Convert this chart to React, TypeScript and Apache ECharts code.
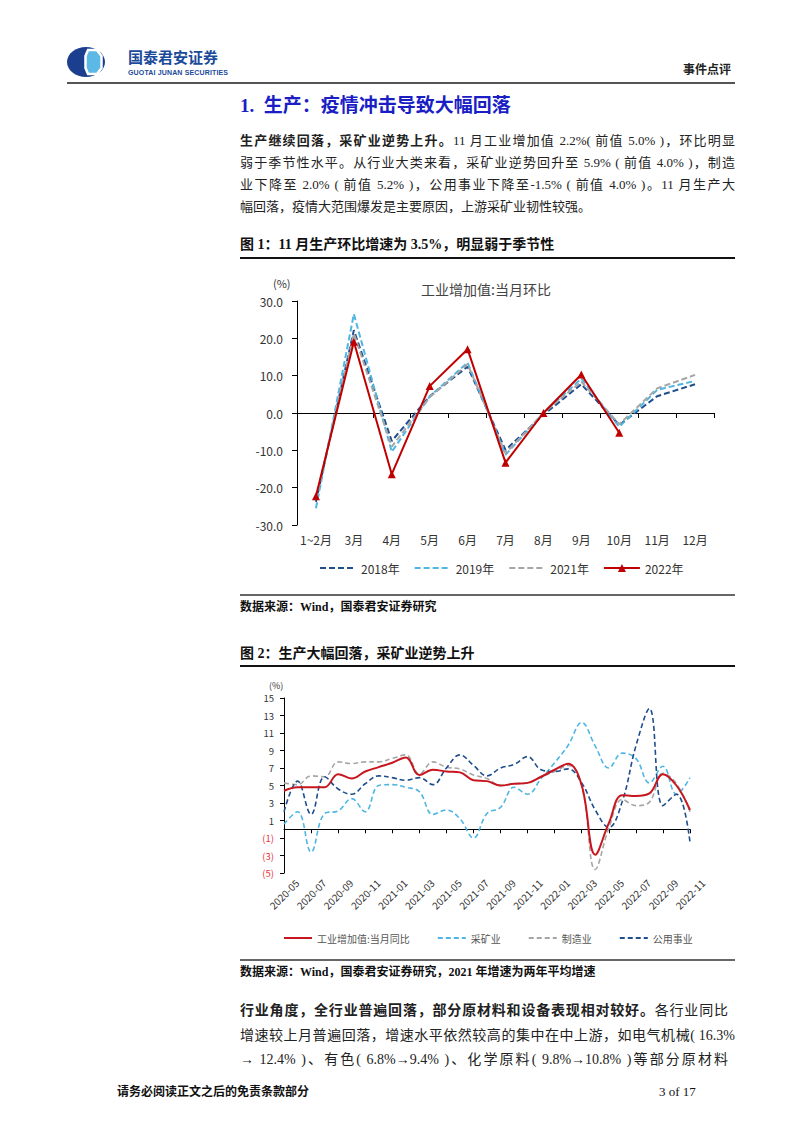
import React, { useEffect, useRef } from "react";
import * as echarts from "echarts";

// ---------- Chart 1 data (工业增加值:当月环比) ----------
const months1 = ["1~2月", "3月", "4月", "5月", "6月", "7月", "8月", "9月", "10月", "11月", "12月"];
const y2018 = [-23.8, 22.2, -7.5, 4.5, 12.4, -9.9, -0.5, 7.7, -3.2, 4.5, 7.7];
const y2019 = [-25.5, 26.5, -10.4, 4.4, 13.5, -11.2, 0.0, 9.2, -3.7, 6.2, 8.6];
const y2021 = [-23.0, 21.3, -9.0, 4.2, 13.1, -10.8, 0.0, 8.4, -3.0, 6.6, 10.2];
const y2022 = [-22.3, 19.1, -16.4, 7.2, 17.1, -13.3, 0.0, 10.3, -5.3, null, null];
const legend1 = ["2018年", "2019年", "2021年", "2022年"];

// ---------- Chart 2 data ----------
const dates2 = [
  "2020-05", "2020-06", "2020-07", "2020-08", "2020-09", "2020-10", "2020-11", "2020-12",
  "2021-01", "2021-02", "2021-03", "2021-04", "2021-05", "2021-06", "2021-07", "2021-08",
  "2021-09", "2021-10", "2021-11", "2021-12", "2022-01", "2022-02", "2022-03", "2022-04",
  "2022-05", "2022-06", "2022-07", "2022-08", "2022-09", "2022-10", "2022-11",
];
const ipYoy = [4.4, 4.8, 4.8, 4.8, 6.3, 5.8, 6.6, 7.1, 7.6, 8.2, 6.2, 6.8, 6.6, 6.5, 5.6, 5.5, 5.0, 5.2, 5.3, 6.0, 6.8, 7.5, 5.0, -2.9, 0.7, 3.9, 3.8, 4.1, 6.3, 5.0, 2.2];
const mining = [0.6, 2.0, -2.6, 1.8, 2.1, 3.5, 2.0, 5.0, 5.1, 4.8, 4.3, 1.7, 2.2, 1.2, -1.0, 1.8, 2.5, 4.8, 4.0, 5.8, 7.6, 9.6, 12.2, 9.5, 7.0, 8.7, 8.1, 5.3, 7.2, 4.0, 5.9];
const manuf = [5.3, 5.1, 6.1, 6.0, 7.7, 7.5, 7.7, 7.7, 8.1, 8.5, 6.3, 7.7, 7.1, 6.9, 6.2, 5.8, 5.0, 5.2, 5.3, 6.0, 6.6, 7.3, 5.0, -4.6, 0.1, 3.4, 2.7, 3.1, 6.4, 5.2, 2.0];
const utility = [2.0, 5.5, 1.7, 6.0, 4.6, 4.0, 5.2, 6.1, 5.9, 5.6, 5.9, 5.1, 7.0, 8.5, 7.3, 6.1, 7.0, 7.4, 8.3, 6.8, 6.6, 6.9, 5.3, 2.2, 0.2, 3.2, 9.5, 13.8, 2.7, 4.0, -1.5];
const legend2 = ["工业增加值:当月同比", "采矿业", "制造业", "公用事业"];

const SANS = '"Noto Sans CJK SC", "Noto Sans", sans-serif';
const SERIF = '"Liberation Serif", "Noto Sans CJK SC", serif';

const C_DARK = "#1f4e8c";
const C_LIGHT = "#4fb6e3";
const C_GRAY = "#a6a6a6";
const C_RED = "#c00000";

function Txt(props: any) {
  const { x, y, w, size, bold, color, justify, family, spacing, children } = props;
  const h = size * 1.4;
  return (
    <div
      style={{
        position: "absolute",
        left: x,
        top: y - h / 2,
        width: w,
        height: h,
        lineHeight: `${h}px`,
        fontSize: size,
        fontWeight: bold ? 700 : 400,
        color: color || "#111",
        whiteSpace: "nowrap",
        textAlign: justify ? "justify" : "left",
        textAlignLast: justify ? "justify" : "auto",
        fontFamily: family || SERIF,
        letterSpacing: spacing,
      } as any}
    >
      {children}
    </div>
  );
}

function Rule(props: any) {
  const { x, y, w, h, color } = props;
  return <div style={{ position: "absolute", left: x, top: y, width: w, height: h, background: color }} />;
}

export default function App() {
  const ref = useRef<HTMLDivElement>(null);

  useEffect(() => {
    if (!ref.current) return;
    const chart = echarts.init(ref.current, null, { renderer: "svg" });
    const dash = [6, 3];
    const hidden = { opacity: 0 };
    const option: any = {
      animation: false,
      textStyle: { fontFamily: SANS },
      grid: [
        { left: 297, top: 301, width: 417, height: 224 },
        { left: 284, top: 698, width: 406, height: 175 },
      ],
      xAxis: [
        {
          gridIndex: 0,
          type: "category",
          data: months1,
          boundaryGap: true,
          axisLine: { onZero: true, lineStyle: { color: "#000", width: 1 } },
          axisTick: { show: true, length: 5, lineStyle: { color: "#000" } },
          axisLabel: { color: "#333", fontSize: 12, margin: 8, interval: 0 },
          splitLine: { show: false },
        },
        {
          gridIndex: 1,
          type: "category",
          data: dates2,
          boundaryGap: false,
          position: "bottom",
          axisLine: { show: false, onZero: false },
          axisTick: { show: false },
          axisLabel: { interval: 1, rotate: 45, fontSize: 10, color: "#333", margin: 21, align: "center" },
          splitLine: { show: false },
        },
        {
          gridIndex: 1,
          type: "category",
          data: dates2,
          boundaryGap: false,
          position: "top",
          axisLine: { onZero: true, lineStyle: { color: "#000", width: 1 } },
          axisTick: { show: true, inside: true, interval: 1, length: 4, lineStyle: { color: "#000" } },
          axisLabel: { show: false },
          splitLine: { show: false },
        },
      ],
      yAxis: [
        {
          gridIndex: 0,
          type: "value",
          min: -30,
          max: 30,
          interval: 10,
          axisLine: { show: true, lineStyle: { color: "#000", width: 1 } },
          axisTick: { show: true, length: 5, lineStyle: { color: "#000" } },
          splitLine: { show: false },
          axisLabel: {
            formatter: (v: number) => v.toFixed(1),
            color: "#333",
            fontSize: 12,
            margin: 14,
          },
        },
        {
          gridIndex: 1,
          type: "value",
          min: -5,
          max: 15,
          interval: 2,
          axisLine: { show: true, lineStyle: { color: "#000", width: 1 } },
          axisTick: { show: true, length: 4, lineStyle: { color: "#000" } },
          splitLine: { show: false },
          axisLabel: {
            formatter: (v: number) => (v < 0 ? `(${-v})` : `${v}`),
            color: (v: any) => (Number(v) < 0 ? "#e8303a" : "#333"),
            fontSize: 9.5,
            margin: 10,
          },
        },
      ],
      legend: [
        {
          data: [
            { name: legend1[0], itemStyle: hidden },
            { name: legend1[1], itemStyle: hidden },
            { name: legend1[2], itemStyle: hidden },
            { name: legend1[3] },
          ],
          left: 314,
          top: 557,
          itemWidth: 36,
          itemHeight: 10,
          itemGap: 14,
          textStyle: { fontSize: 12, color: "#333", fontFamily: SANS },
        },
        {
          data: legend2.map((n) => ({ name: n, itemStyle: hidden })),
          left: 278,
          top: 928,
          itemWidth: 28,
          itemHeight: 8,
          itemGap: 27,
          textStyle: { fontSize: 10, color: "#555", fontFamily: SANS },
        },
      ],
      graphic: [
        { type: "ellipse", shape: { cx: 86, cy: 62, rx: 19, ry: 15 }, style: { fill: "#1b3f8e" } },
        {
          type: "polygon",
          shape: { points: [[88, 50], [97, 50], [101.5, 56], [101.5, 68], [97, 74], [88, 74], [85.5, 68], [85.5, 56]] },
          style: { fill: "#5cb8e4", stroke: "#ffffff", lineWidth: 2.5 },
        },
        { type: "text", x: 273, y: 283, style: { text: "(%)", fontSize: 11, fill: "#333", fontFamily: SANS, verticalAlign: "middle" } },
        {
          type: "text",
          x: 486,
          y: 289,
          style: { text: "工业增加值:当月环比", fontSize: 14, fill: "#444", fontFamily: SANS, align: "center", verticalAlign: "middle" },
        },
        { type: "text", x: 269, y: 685, style: { text: "(%)", fontSize: 9, fill: "#333", fontFamily: SANS, verticalAlign: "middle" } },
      ],
      series: [
        {
          name: "2018年", type: "line", xAxisIndex: 0, yAxisIndex: 0, data: y2018, symbol: "none",
          lineStyle: { color: C_DARK, width: 2, type: dash }, itemStyle: { color: C_DARK },
        },
        {
          name: "2019年", type: "line", xAxisIndex: 0, yAxisIndex: 0, data: y2019, symbol: "none",
          lineStyle: { color: C_LIGHT, width: 2, type: dash }, itemStyle: { color: C_LIGHT },
        },
        {
          name: "2021年", type: "line", xAxisIndex: 0, yAxisIndex: 0, data: y2021, symbol: "none",
          lineStyle: { color: C_GRAY, width: 2, type: dash }, itemStyle: { color: C_GRAY },
        },
        {
          name: "2022年", type: "line", xAxisIndex: 0, yAxisIndex: 0, data: y2022, symbol: "triangle", symbolSize: 8,
          lineStyle: { color: C_RED, width: 2 }, itemStyle: { color: C_RED },
        },
        {
          name: "采矿业", type: "line", xAxisIndex: 1, yAxisIndex: 1, data: mining, symbol: "none", smooth: 0.4,
          lineStyle: { color: C_LIGHT, width: 1.6, type: [5, 3] }, itemStyle: { color: C_LIGHT },
        },
        {
          name: "制造业", type: "line", xAxisIndex: 1, yAxisIndex: 1, data: manuf, symbol: "none", smooth: 0.4,
          lineStyle: { color: C_GRAY, width: 1.6, type: [5, 3] }, itemStyle: { color: C_GRAY },
        },
        {
          name: "公用事业", type: "line", xAxisIndex: 1, yAxisIndex: 1, data: utility, symbol: "none", smooth: 0.4,
          lineStyle: { color: C_DARK, width: 1.6, type: [5, 3] }, itemStyle: { color: C_DARK },
        },
        {
          name: "工业增加值:当月同比", type: "line", xAxisIndex: 1, yAxisIndex: 1, data: ipYoy, symbol: "none", smooth: 0.4,
          lineStyle: { color: "#c8161e", width: 2 }, itemStyle: { color: "#c8161e" },
        },
      ],
    };
    chart.setOption(option);
    return () => chart.dispose();
  }, []);

  const BLUE = "#1a1ec4";
  return (
    <div style={{ position: "absolute", left: 0, top: 0, width: 802, height: 1133, background: "#fff", overflow: "hidden" }}>
      <div ref={ref} style={{ position: "absolute", left: 0, top: 0, width: 802, height: 1133 }} />

      {/* header */}
      <Txt x={128} y={56} size={15} bold color="#1b4a9a" family={SANS} spacing={0}>国泰君安证券</Txt>
      <Txt x={128} y={73} size={7} bold color="#1b4a9a" family='"Liberation Sans", Arial, sans-serif' spacing={0.15}>GUOTAI JUNAN SECURITIES</Txt>
      <Txt x={683} y={69} size={12} bold color="#222" family={SANS}>事件点评</Txt>
      <Rule x={67} y={82} w={668} h={2} color="#555" />

      {/* section title */}
      <Txt x={240} y={106} size={19} bold color={BLUE}>1.&nbsp;&nbsp;生产：疫情冲击导致大幅回落</Txt>

      {/* paragraph 1 */}
      <Txt x={240} y={141} w={495} size={13} justify color="#222">
        <b>生产继续回落，采矿业逆势上升。</b>11 月工业增加值 2.2%( 前值 5.0% )，环比明显
      </Txt>
      <Txt x={240} y={163} w={495} size={13} justify color="#222">
        弱于季节性水平。从行业大类来看，采矿业逆势回升至 5.9% ( 前值 4.0% )，制造
      </Txt>
      <Txt x={240} y={185} w={495} size={13} justify color="#222">
        业下降至 2.0% ( 前值 5.2% )，公用事业下降至-1.5% ( 前值 4.0% )。11 月生产大
      </Txt>
      <Txt x={240} y={207} size={13} color="#222">幅回落，疫情大范围爆发是主要原因，上游采矿业韧性较强。</Txt>

      {/* figure 1 */}
      <Txt x={240} y={245} size={14} bold color="#111">图 1：11 月生产环比增速为 3.5%，明显弱于季节性</Txt>
      <Rule x={240} y={257} w={495} h={1.5} color="#111" />
      <Rule x={240} y={594} w={495} h={2} color="#666" />
      <Txt x={240} y={607} size={12} bold color="#111">数据来源：Wind，国泰君安证券研究</Txt>

      {/* figure 2 */}
      <Txt x={240} y={654} size={14} bold color="#111">图 2：生产大幅回落，采矿业逆势上升</Txt>
      <Rule x={240} y={665} w={495} h={1.5} color="#111" />
      <Rule x={240} y={959} w={495} h={2} color="#666" />
      <Txt x={240} y={972} size={12} bold color="#111">数据来源：Wind，国泰君安证券研究，2021 年增速为两年平均增速</Txt>

      {/* paragraph 2 */}
      <Txt x={240} y={1011} w={488} size={14} justify color="#222">
        <b>行业角度，全行业普遍回落，部分原材料和设备表现相对较好。</b>各行业同比
      </Txt>
      <Txt x={240} y={1036} w={495} size={14} justify color="#222">
        增速较上月普遍回落，增速水平依然较高的集中在中上游，如电气机械( 16.3%
      </Txt>
      <Txt x={240} y={1060} w={488} size={14} justify color="#222">
        → 12.4% )、有色( 6.8%→9.4% )、化学原料( 9.8%→10.8% )等部分原材料
      </Txt>

      {/* footer */}
      <Txt x={117} y={1092} size={12} bold color="#111">请务必阅读正文之后的免责条款部分</Txt>
      <Txt x={659} y={1092} size={13} color="#111">3 of 17</Txt>
    </div>
  );
}
